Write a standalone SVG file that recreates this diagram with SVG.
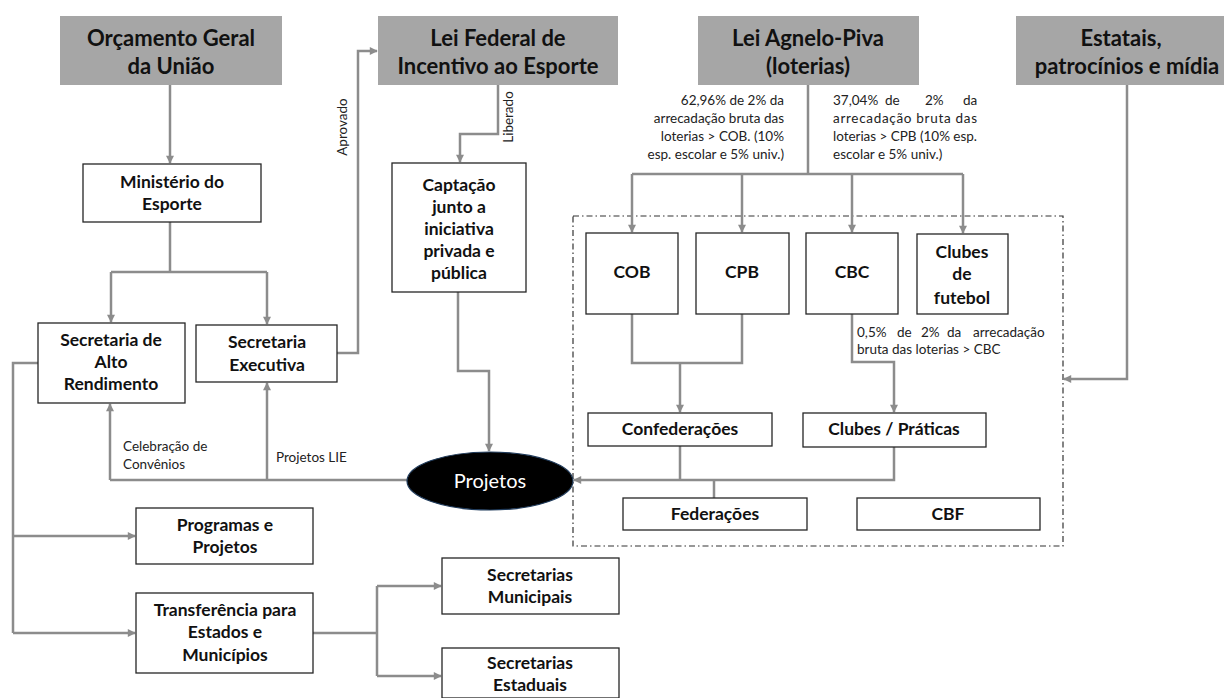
<svg xmlns="http://www.w3.org/2000/svg" width="1224" height="698" viewBox="0 0 1224 698">
<style>
.head{fill:#a6a6a6;stroke:none}
.box{fill:#fff;stroke:#262626;stroke-width:1.3}
.ht{font-family:Lato,"Liberation Sans",sans-serif;font-weight:bold;font-size:22px;fill:#111;text-anchor:middle}
.bt{font-family:Lato,"Liberation Sans",sans-serif;font-weight:bold;font-size:17.5px;fill:#111;text-anchor:middle}
.st{font-family:Lato,"Liberation Sans",sans-serif;font-size:13.5px;fill:#222}
.c{fill:none;stroke:#8c8c8c;stroke-width:2.5}
.ca{fill:none;stroke:#8c8c8c;stroke-width:2.5;marker-end:url(#ah)}
</style>
<defs>
<marker id="ah" viewBox="0 0 10 10" refX="9" refY="5" markerWidth="9" markerHeight="8" markerUnits="userSpaceOnUse" orient="auto">
<path d="M0,0 L10,5 L0,10 z" fill="#8c8c8c"/>
</marker>
</defs>
<rect width="1224" height="698" fill="#fff"/>

<g id="grupo-lei-agnelo">
<rect x="573" y="216" width="490" height="330" fill="none" stroke="#333" stroke-width="1.2" stroke-dasharray="6,3,1.5,3"/>
</g>

<g id="connectors">
<path class="ca" d="M170,85 V163"/>
<path class="c" d="M170,222 V272 M111,272 H267"/>
<path class="ca" d="M111,272 V322"/>
<path class="ca" d="M267,272 V324"/>
<path class="ca" d="M337,353 H358 V51 H377"/>
<path class="ca" d="M498,85 V134 H460 V162"/>
<path class="ca" d="M458,292 V371 H489 V451"/>
<path class="c" d="M808,85 V174 M632,174 H963"/>
<path class="ca" d="M632,174 V232"/>
<path class="ca" d="M742,174 V232"/>
<path class="ca" d="M852,174 V232"/>
<path class="ca" d="M963,174 V233"/>
<path class="ca" d="M1127,85 V379 H1064"/>
<path class="c" d="M632,314 V363 H742 V314"/>
<path class="ca" d="M680,363 V412"/>
<path class="ca" d="M852,314 V362 H894 V412"/>
<path class="c" d="M680,446 V480 M714,480 V498"/>
<path class="ca" d="M894,447 V480 H574"/>
<path class="c" d="M407,480 H110"/>
<path class="ca" d="M110,480 V404"/>
<path class="ca" d="M267,480 V383"/>
<path class="c" d="M38,363 H13 V633"/>
<path class="ca" d="M13,536 H135"/>
<path class="ca" d="M13,633 H135"/>
<path class="c" d="M313,633 H377 M377,586 V676"/>
<path class="ca" d="M377,586 H441"/>
<path class="ca" d="M377,676 H441"/>
</g>

<g id="orcamento">
<rect class="head" x="60" y="16" width="222" height="69"/>
<text class="ht" x="171" y="46">Orçamento Geral</text>
<text class="ht" x="171" y="74">da União</text>
</g>
<g id="lei-federal">
<rect class="head" x="378" y="16" width="240" height="69"/>
<text class="ht" x="498" y="46">Lei Federal de</text>
<text class="ht" x="498" y="74">Incentivo ao Esporte</text>
</g>
<g id="lei-agnelo-piva">
<rect class="head" x="698" y="16" width="221" height="69"/>
<text class="ht" x="808" y="46">Lei Agnelo-Piva</text>
<text class="ht" x="808" y="74">(loterias)</text>
</g>
<g id="estatais">
<rect class="head" x="1016" y="16" width="220" height="69"/>
<text class="ht" x="1121" y="46">Estatais,</text>
<text class="ht" x="1127" y="74">patrocínios e mídia</text>
</g>

<g id="ministerio">
<rect class="box" x="83" y="164" width="178" height="58"/>
<text class="bt" x="172" y="188">Ministério do</text>
<text class="bt" x="172" y="210">Esporte</text>
</g>
<g id="sec-alto-rendimento">
<rect class="box" x="38" y="323" width="147" height="80"/>
<text class="bt" x="111" y="346">Secretaria de</text>
<text class="bt" x="111" y="368">Alto</text>
<text class="bt" x="111" y="390">Rendimento</text>
</g>
<g id="sec-executiva">
<rect class="box" x="196" y="325" width="141" height="57"/>
<text class="bt" x="267" y="348">Secretaria</text>
<text class="bt" x="267" y="371">Executiva</text>
</g>
<g id="captacao">
<rect class="box" x="392" y="163" width="134" height="129"/>
<text class="bt" x="459" y="191">Captação</text>
<text class="bt" x="459" y="213">junto a</text>
<text class="bt" x="459" y="235">iniciativa</text>
<text class="bt" x="459" y="257">privada e</text>
<text class="bt" x="459" y="279">pública</text>
</g>
<g id="cob">
<rect class="box" x="586" y="233" width="92" height="81"/>
<text class="bt" x="632" y="278">COB</text>
</g>
<g id="cpb">
<rect class="box" x="696" y="233" width="93" height="81"/>
<text class="bt" x="742" y="278">CPB</text>
</g>
<g id="cbc">
<rect class="box" x="806" y="233" width="92" height="81"/>
<text class="bt" x="852" y="278">CBC</text>
</g>
<g id="clubes-futebol">
<rect class="box" x="917" y="234" width="91" height="80"/>
<text class="bt" x="962" y="258">Clubes</text>
<text class="bt" x="962" y="280">de</text>
<text class="bt" x="962" y="304">futebol</text>
</g>
<g id="confederacoes">
<rect class="box" x="588" y="413" width="184" height="33"/>
<text class="bt" x="680" y="435">Confederações</text>
</g>
<g id="clubes-praticas">
<rect class="box" x="803" y="413" width="183" height="34"/>
<text class="bt" x="894" y="435">Clubes / Práticas</text>
</g>
<g id="federacoes">
<rect class="box" x="623" y="498" width="184" height="32"/>
<text class="bt" x="715" y="520">Federações</text>
</g>
<g id="cbf">
<rect class="box" x="857" y="498" width="183" height="32"/>
<text class="bt" x="948" y="520">CBF</text>
</g>
<g id="projetos">
<ellipse cx="490" cy="481" rx="83" ry="29" fill="#000" stroke="#1f3a5a" stroke-width="1.2"/>
<text x="490" y="488" font-family="Lato,'Liberation Sans',sans-serif" font-size="20px" fill="#fff" text-anchor="middle">Projetos</text>
</g>
<g id="programas">
<rect class="box" x="136" y="508" width="177" height="56"/>
<text class="bt" x="225" y="531">Programas e</text>
<text class="bt" x="225" y="553">Projetos</text>
</g>
<g id="transferencia">
<rect class="box" x="136" y="593" width="177" height="80"/>
<text class="bt" x="225" y="616">Transferência para</text>
<text class="bt" x="225" y="638">Estados e</text>
<text class="bt" x="225" y="661">Municípios</text>
</g>
<g id="sec-municipais">
<rect class="box" x="442" y="558" width="177" height="56"/>
<text class="bt" x="530" y="581">Secretarias</text>
<text class="bt" x="530" y="603">Municipais</text>
</g>
<g id="sec-estaduais">
<rect class="box" x="442" y="648" width="177" height="50"/>
<text class="bt" x="530" y="669">Secretarias</text>
<text class="bt" x="530" y="691">Estaduais</text>
</g>

<g id="labels">
<text class="st" transform="translate(347,127) rotate(-90)" text-anchor="middle">Aprovado</text>
<text class="st" transform="translate(513,117) rotate(-90)" text-anchor="middle">Liberado</text>
<text class="st" text-anchor="end" x="784" y="105">62,96% de 2% da</text>
<text class="st" text-anchor="end" x="784" y="123">arrecadação bruta das</text>
<text class="st" text-anchor="end" x="784" y="141">loterias &gt; COB. (10%</text>
<text class="st" text-anchor="end" x="784" y="159">esp. escolar e 5% univ.)</text>
<text class="st" y="105"><tspan x="833">37,04%</tspan><tspan x="885">de</tspan><tspan x="925">2%</tspan><tspan x="963">da</tspan></text>
<text class="st" x="833" y="123" textLength="144" lengthAdjust="spacing">arrecadação bruta das</text>
<text class="st" x="833" y="141" textLength="144" lengthAdjust="spacing">loterias &gt; CPB (10% esp.</text>
<text class="st" x="833" y="159">escolar e 5% univ.)</text>
<text class="st" y="337"><tspan x="857">0,5%</tspan><tspan x="897">de</tspan><tspan x="921">2%</tspan><tspan x="947">da</tspan><tspan x="973">arrecadação</tspan></text>
<text class="st" x="857" y="354">bruta das loterias &gt; CBC</text>
<text class="st" x="123" y="451">Celebração de</text>
<text class="st" x="123" y="469">Convênios</text>
<text class="st" x="276" y="462">Projetos LIE</text>
</g>
</svg>
